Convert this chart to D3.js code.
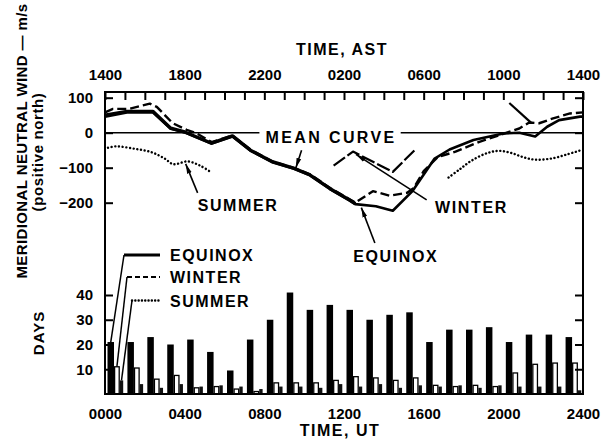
<!DOCTYPE html>
<html>
<head>
<meta charset="utf-8">
<script src="https://cdn.jsdelivr.net/npm/d3@7"></script>
<style>
  html, body { margin: 0; padding: 0; background: #fff; }
  svg { display: block; font-family: "Liberation Sans", Arial, Helvetica, sans-serif; font-weight: bold; }
</style>
</head>
<body>
<svg id="chart" width="603" height="439"></svg>
<script>
// ---- data ----------------------------------------------------------------
// Hour-of-day (UT) for the bar groups
const hours = d3.range(24);

// Number of observing days contributing to each hourly mean
const equinoxDays = [21, 21, 23, 20, 22, 17, 9.5, 22, 30, 41, 34, 36, 34, 30, 32, 33, 21, 26, 26, 27, 21, 24, 24, 23];
const winterDays  = [11, 10.5, 6, 7.5, 2.5, 3, 2, 1, 4.5, 4.5, 4.5, 5.5, 7, 6.5, 5.5, 6.5, 3.5, 3, 3.5, 3, 8.5, 12, 12.5, 12.5];
const summerDays  = [5.5, 4, 2.5, 4, 3, 3.5, 3, 2, 3, 3, 2.5, 4, 3, 4, 2.5, 3.5, 3, 3.5, 2.5, 3.5, 3, 3, 3, 1.5];

// Meridional wind curves, [UT hour, m/s]
const meanWind = [[0, 50], [1.1, 61], [2.4, 61], [3.3, 13], [4, 2], [5.35, -30], [6.4, -9], [7.3, -50],
  [8.4, -83], [9.5, -102], [10.3, -121], [11.3, -160], [12.3, -193], [12.57, -203]];
const equinoxWind = [[0, 46], [1.1, 58], [2.4, 58], [3.3, 11], [4, 1], [5.35, -31], [6.4, -11], [7.3, -51],
  [8.4, -84], [9.5, -103], [10.3, -122], [11.3, -161], [12.3, -194], [12.57, -204], [13.6, -210],
  [14.45, -223], [15.45, -166], [16.55, -74], [17.3, -48], [18.5, -21], [20, -2], [20.8, 0],
  [21.6, -11], [22.2, 17], [22.8, 36], [23.85, 46], [24, 46]];
const winterWind = [[0, 58], [0.4, 68], [1.2, 68], [2.25, 83], [2.6, 74], [3.4, 27], [4.1, 8], [4.6, -2],
  [5.35, -27], [6.4, -8], [7.3, -48], [8.4, -82], [9.5, -101], [10.3, -119], [11.3, -158],
  [12.3, -191], [12.57, -200], [13.45, -167], [14.3, -180], [15.15, -172], [15.5, -158],
  [16.0, -110], [16.7, -70], [17.6, -54], [18.8, -26], [19.8, -7], [20.8, 12], [21.3, 29],
  [21.8, 27], [22.5, 41], [23.35, 55], [24, 58]];
const winterNightWind = [[11.48, -94], [12.45, -54], [14.45, -112], [15.56, -49]];
const winterMorningWind = [[20.3, 85], [21.4, 28]];
const summerEveningWind = [[0.15, -43], [0.55, -39], [1.5, -46], [2.35, -56], [3.0, -74], [3.43, -90],
  [4.15, -82], [4.77, -94], [5.3, -112]];
const summerMorningWind = [[17.25, -128], [17.8, -105], [18.4, -80], [19.2, -58], [19.8, -52],
  [20.4, -58], [21.0, -70], [21.6, -77], [22.4, -74], [23.2, -62], [23.9, -50]];

// Axis ticks and labels
const utTicks = [0, 4, 8, 12, 16, 20, 24];
const utLabels = ["0000", "0400", "0800", "1200", "1600", "2000", "2400"];
const astLabels = ["1400", "1800", "2200", "0200", "0600", "1000", "1400"];
const windTicks = [100, 0, -100, -200];
const dayTicks = [10, 20, 30, 40];

(function draw() {
  // ---- layout ------------------------------------------------------------
  const svg = d3.select("#chart");
  const fL = 105, fR = 583, fT = 92, fB = 394;

  const x = d3.scaleLinear().domain([0, 24]).range([fL, fR]);
  const yWind = d3.scaleLinear().domain([-200, 100]).range([202.7, 97.7]);
  const yDays = d3.scaleLinear().domain([0, 40]).range([fB, 295]);

  const defs = svg.append("defs");
  defs.append("marker")
    .attr("id", "head").attr("viewBox", "0 0 10 6")
    .attr("refX", 10).attr("refY", 3)
    .attr("markerWidth", 10).attr("markerHeight", 6)
    .attr("markerUnits", "userSpaceOnUse")
    .attr("orient", "auto")
    .append("path").attr("d", "M0,0.6 L10,3 L0,5.4 Z").attr("fill", "#000");

  // ---- bars --------------------------------------------------------------
  const bars = svg.append("g");
  bars.selectAll("rect.eq").data(hours).join("rect").attr("class", "eq")
    .attr("x", h => x(h) + 2.5).attr("width", 6.5)
    .attr("y", h => yDays(equinoxDays[h])).attr("height", h => yDays(0) - yDays(equinoxDays[h]))
    .attr("fill", "#000");
  bars.selectAll("rect.wi").data(hours).join("rect").attr("class", "wi")
    .attr("x", h => x(h) + 9.6).attr("width", 4.6)
    .attr("y", h => yDays(winterDays[h])).attr("height", h => yDays(0) - yDays(winterDays[h]))
    .attr("fill", "#fff").attr("stroke", "#000").attr("stroke-width", 1.3);
  bars.selectAll("rect.su").data(hours).join("rect").attr("class", "su")
    .attr("x", h => x(h) + 14.8).attr("width", 3.4)
    .attr("y", h => yDays(summerDays[h])).attr("height", h => yDays(0) - yDays(summerDays[h]))
    .attr("fill", "#111");

  // ---- frame and axes ----------------------------------------------------
  svg.append("rect")
    .attr("x", fL).attr("y", fT).attr("width", fR - fL).attr("height", fB - fT)
    .attr("fill", "none").attr("stroke", "#000").attr("stroke-width", 2);

  function styleAxis(g, size) {
    g.select(".domain").remove();
    g.selectAll(".tick line").attr("stroke", "#000").attr("stroke-width", 2);
    g.selectAll("text").attr("font-family", "\"Liberation Sans\", Arial, sans-serif")
      .attr("font-weight", "bold").attr("font-size", size).attr("fill", "#000");
  }

  // top AST axis: hourly ticks pointing inward, labels every 4 h
  const astMap = new Map(utTicks.map((t, i) => [t, astLabels[i]]));
  svg.append("g").attr("transform", `translate(0,${fT})`)
    .call(d3.axisTop(x).tickValues(d3.range(0, 25)).tickSize(-8).tickPadding(12)
      .tickFormat(h => astMap.get(h) || ""))
    .call(g => styleAxis(g, 15));

  // bottom UT axis: labels only
  svg.append("g").attr("transform", `translate(0,${fB})`)
    .call(d3.axisBottom(x).tickValues(utTicks).tickSize(0).tickPadding(14)
      .tickFormat((d, i) => utLabels[i]))
    .call(g => styleAxis(g, 15));

  // wind axes
  svg.append("g").attr("transform", `translate(${fL},0)`)
    .call(d3.axisLeft(yWind).tickValues(windTicks).tickSize(-8).tickPadding(12))
    .call(g => styleAxis(g, 15));
  svg.append("g").attr("transform", `translate(${fR},0)`)
    .call(d3.axisRight(yWind).tickValues(windTicks).tickSize(-8).tickFormat(""))
    .call(g => styleAxis(g, 15));

  // days axes
  svg.append("g").attr("transform", `translate(${fL},0)`)
    .call(d3.axisLeft(yDays).tickValues(dayTicks).tickSize(-8).tickPadding(12))
    .call(g => styleAxis(g, 15));
  svg.append("g").attr("transform", `translate(${fR},0)`)
    .call(d3.axisRight(yDays).tickValues(dayTicks).tickSize(-8).tickFormat(""))
    .call(g => styleAxis(g, 15));

  // axis titles
  svg.append("text").attr("x", (fL + fR) / 2 - 2).attr("y", 55)
    .attr("text-anchor", "middle").attr("font-size", 16).attr("letter-spacing", 1.5).text("TIME, AST");
  svg.append("text").attr("x", (fL + fR) / 2 - 4).attr("y", 436)
    .attr("text-anchor", "middle").attr("font-size", 16).attr("letter-spacing", 1.5).text("TIME, UT");
  svg.append("text").attr("transform", "translate(27,141) rotate(-90)")
    .attr("text-anchor", "middle").attr("font-size", 15).attr("letter-spacing", 0.4)
    .text("MERIDIONAL NEUTRAL WIND \u2014 m/s");
  svg.append("text").attr("transform", "translate(43,152) rotate(-90)")
    .attr("text-anchor", "middle").attr("font-size", 15).attr("letter-spacing", 0.6)
    .text("(positive north)");
  svg.append("text").attr("transform", "translate(44,333) rotate(-90)")
    .attr("text-anchor", "middle").attr("font-size", 15).attr("letter-spacing", 1)
    .text("DAYS");

  // ---- zero line with "MEAN CURVE" label ----------------------------------
  svg.append("line")
    .attr("x1", x(0)).attr("x2", x(24)).attr("y1", yWind(0)).attr("y2", yWind(0))
    .attr("stroke", "#000").attr("stroke-width", 1.6);
  const meanLabel = svg.append("g");
  const meanText = meanLabel.append("text")
    .attr("x", x(11.35)).attr("y", yWind(-29))
    .attr("text-anchor", "middle").attr("font-size", 16).attr("letter-spacing", 2.4)
    .text("MEAN CURVE");
  const mb = meanText.node().getBBox();
  meanLabel.insert("rect", "text")
    .attr("x", mb.x - 6).attr("y", mb.y).attr("width", mb.width + 10).attr("height", mb.height)
    .attr("fill", "#fff");

  // ---- wind curves -------------------------------------------------------
  const line = d3.line().x(d => x(d[0])).y(d => yWind(d[1]));
  const smooth = d3.line().x(d => x(d[0])).y(d => yWind(d[1])).curve(d3.curveCatmullRom);
  const curves = svg.append("g").attr("fill", "none").attr("stroke", "#000")
    .attr("stroke-linejoin", "round");

  curves.append("path").attr("d", line(equinoxWind)).attr("stroke-width", 2.6);
  curves.append("path").attr("d", line(meanWind)).attr("stroke-width", 3.4);
  curves.append("path").attr("d", line(winterWind)).attr("stroke-width", 2.4)
    .attr("stroke-dasharray", "9,4");
  curves.append("path").attr("d", line(winterNightWind)).attr("stroke-width", 2.2)
    .attr("stroke-dasharray", "14,3");
  curves.append("path").attr("d", line(winterMorningWind)).attr("stroke-width", 2.2);
  [summerEveningWind, summerMorningWind].forEach(s => {
    curves.append("path").attr("d", smooth(s)).attr("stroke-width", 2.4)
      .attr("stroke-linecap", "round").attr("stroke-dasharray", "0.1,3.6");
  });

  // ---- annotations -------------------------------------------------------
  const notes = [
    { text: "SUMMER",  at: [6.68, -224], from: [4.65, -172], to: [4.05, -89] },
    { text: "EQUINOX", at: [14.6, -368], from: [13.55, -315], to: [12.87, -214] },
    { text: "WINTER",  at: [18.4, -228], from: [16.15, -192], to: [12.6, -62] },
  ];
  notes.forEach(n => {
    svg.append("text").attr("x", x(n.at[0])).attr("y", yWind(n.at[1]))
      .attr("text-anchor", "middle").attr("font-size", 16).attr("letter-spacing", 1.6).text(n.text);
    svg.append("line")
      .attr("x1", x(n.from[0])).attr("y1", yWind(n.from[1]))
      .attr("x2", x(n.to[0])).attr("y2", yWind(n.to[1]))
      .attr("stroke", "#000").attr("stroke-width", 1.6).attr("marker-end", "url(#head)");
  });
  // arrow from the MEAN CURVE label down to the curve
  svg.append("line")
    .attr("x1", x(9.87)).attr("y1", yWind(-50)).attr("x2", x(9.58)).attr("y2", yWind(-101))
    .attr("stroke", "#000").attr("stroke-width", 1.6).attr("marker-end", "url(#head)");

  // ---- legend with leader lines to the first bar group ---------------------
  const legend = [
    { name: "EQUINOX", y: 255, x0: 124, dash: null, w: 3.2, target: [x(0) + 2.5 + 3.25, yDays(equinoxDays[0])] },
    { name: "WINTER",  y: 277, x0: 127, dash: "5,3", w: 2, target: [x(0) + 9.6 + 2.3, yDays(winterDays[0])] },
    { name: "SUMMER",  y: 300.5, x0: 132, dash: "0.1,3.2", w: 2.4, target: [x(0) + 14.8 + 1.7, yDays(summerDays[0])] },
  ];
  legend.forEach(l => {
    svg.append("line").attr("x1", l.x0).attr("x2", 160).attr("y1", l.y).attr("y2", l.y)
      .attr("stroke", "#000").attr("stroke-width", l.w)
      .attr("stroke-linecap", l.dash && l.dash.startsWith("0.1") ? "round" : "butt")
      .attr("stroke-dasharray", l.dash);
    svg.append("line").attr("x1", l.x0).attr("y1", l.y).attr("x2", l.target[0]).attr("y2", l.target[1])
      .attr("stroke", "#000").attr("stroke-width", 1.5);
    svg.append("text").attr("x", 170).attr("y", l.y + 6)
      .attr("font-size", 16).attr("letter-spacing", 1.5).text(l.name);
  });
})();
</script>
</body>
</html>
